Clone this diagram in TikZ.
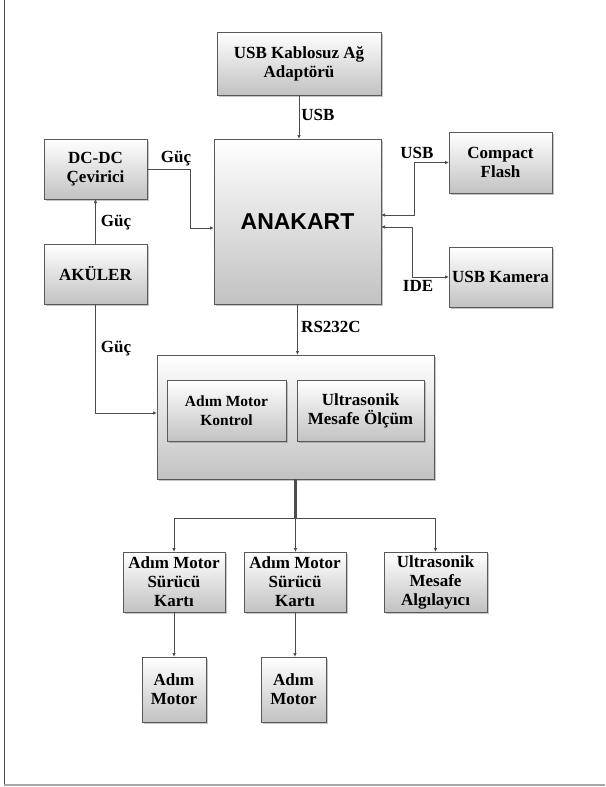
\documentclass[tikz,border=0pt]{standalone}
\usepackage{fontspec}
\setmainfont{Liberation Serif}
\newfontfamily\anafont{Liberation Sans}
\usetikzlibrary{positioning,arrows.meta,shadows}

\tikzset{
  blok/.style={draw=black!65, line width=0.9pt, top color=white, bottom color=black!24,
    drop shadow={shadow xshift=1.5pt, shadow yshift=-1.5pt, opacity=0.45},
    inner sep=0pt, outer sep=0pt, align=center,
    font=\fontsize{17}{19}\selectfont\bfseries},
  etiket/.style={font=\fontsize{17}{19}\selectfont\bfseries, inner sep=0pt},
  hat/.style={draw=black!70, line width=0.8pt, -{Latex[length=4pt,width=3.5pt]}},
  cifthat/.style={hat, {Latex[length=4pt,width=3.5pt]}-{Latex[length=4pt,width=3.5pt]}}
}

\begin{document}
\begin{tikzpicture}[x=1pt,y=-1pt]
        \useasboundingbox (0,0) rectangle (605,787);
        % cerceve
        \draw[black!70, line width=0.9pt] (4,0) -- (4,785);
        \draw[black!35, line width=1.5pt] (4,785) -- (605,785);

        % ust kisim
        \node[blok, minimum width=164pt, minimum height=63pt] (adaptor) at (299,63.5) {USB Kablosuz Ağ\\Adaptörü};
        \node[blok, minimum width=167pt, minimum height=165pt, font=\anafont\fontsize{23}{26}\selectfont\bfseries] (anakart) at (297.5,221.5) {ANAKART};
        \node[blok, minimum width=103pt, minimum height=60pt] (dcdc) at (95.5,169) {DC-DC\\Çevirici};
        \node[blok, minimum width=103pt, minimum height=60pt] (akuler) at (95.5,274) {AKÜLER};
        \node[blok, minimum width=103pt, minimum height=61pt] (cflash) at (500.5,162.5) {Compact\\Flash};
        \node[blok, minimum width=103pt, minimum height=60pt] (kamera) at (500.5,277) {USB Kamera};

        % kontrol karti
        \node[blok, minimum width=277pt, minimum height=124pt] (kontrolcu) at (295.5,417) {};
        \node[blok, minimum width=119pt, minimum height=61pt, font=\fontsize{15.5}{19}\selectfont\bfseries] (amk) at (226.5,410.5) {Adım Motor\\Kontrol};
        \node[blok, minimum width=127pt, minimum height=61pt] (ume) at (360.5,410.5) {Ultrasonik\\Mesafe Ölçüm};

        % alt kisim
        \node[blok, minimum width=102pt, minimum height=60pt] (surucuA) at (174,582) {Adım Motor\\Sürücü\\Kartı};
        \node[blok, minimum width=102pt, minimum height=60pt] (surucuB) at (295,582) {Adım Motor\\Sürücü\\Kartı};
        \node[blok, minimum width=103pt, minimum height=60pt] (algilayici) at (435.5,582) {Ultrasonik\\Mesafe\\Algılayıcı};
        \node[blok, minimum width=64pt, minimum height=65pt] (motorA) at (174,689.5) {Adım\\Motor};
        \node[blok, minimum width=65pt, minimum height=65pt] (motorB) at (293.5,689.5) {Adım\\Motor};

        \coordinate (bus) at (kontrolcu.south |- 0,518);

        % baglantilar
        \draw[hat] (adaptor.south) -- (adaptor.south |- anakart.north);
        \draw[hat] (dcdc.east) -- ++(43,0) |- ([yshift=-6.5pt]anakart.west);
        \draw[hat] (akuler) -- (dcdc);
        \draw[hat] (akuler.south) |- ([yshift=4pt]kontrolcu.west);
        \draw[cifthat] ([yshift=6.5pt]anakart.east) -- ++(33,0) |- (cflash.west);
        \draw[cifthat] ([yshift=-5.5pt]anakart.east) -- ++(31,0) |- (kamera.west);
        \draw[hat] (anakart.south) -- (anakart.south |- kontrolcu.north);
        \draw[hat] ([xshift=-0.8pt]kontrolcu.south) -- ([xshift=-0.8pt]bus) -| (surucuA.north);
        \draw[hat] (kontrolcu.south) -- (bus) -- (bus |- surucuB.north);
        \draw[hat] ([xshift=0.8pt]kontrolcu.south) -- ([xshift=0.8pt]bus) -| (algilayici.north);
        \draw[hat] (surucuA) -- (motorA);
        \draw[hat] (surucuB.south) -- (surucuB.south |- motorB.north);

        % etiketler
        \node[etiket] (lblusb) at (318,115) {USB};
        \node[etiket] (lblguca) at (176,159) {Güç};
        \node[etiket] (lblgucb) at (116,223) {Güç};
        \node[etiket] (lblgucc) at (116,349) {Güç};
        \node[etiket] (lblrs) at (331,327) {RS232C};
        \node[etiket] (lblusbb) at (417,153) {USB};
        \node[etiket] (lblide) at (418,286) {IDE};
\end{tikzpicture}
\end{document}
